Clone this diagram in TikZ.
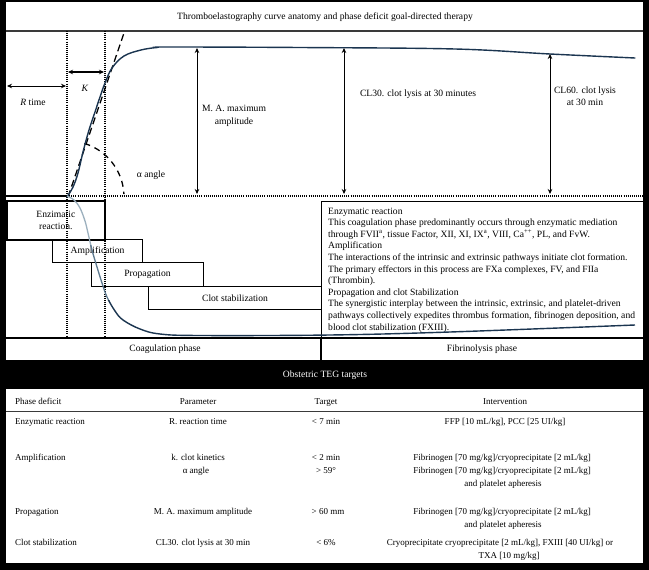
\documentclass[tikz,border=0pt]{standalone}
\usepackage{fontspec}
\setmainfont{Liberation Serif}
\usetikzlibrary{arrows.meta}
\definecolor{curvedark}{HTML}{1B3550}
\definecolor{curvemid}{HTML}{5E7A90}
\definecolor{curvelight}{HTML}{9CB0BE}
\definecolor{rulegray}{HTML}{3A3A3A}
\begin{document}
\begin{tikzpicture}[x=1pt,y=-1pt,
  lbl/.style={font=\fontsize{9.6}{11}\selectfont, inner sep=0pt, text=black},
  tbl/.style={font=\fontsize{9}{11}\selectfont, inner sep=0pt, text=black},
  dotline/.style={line width=1.2pt, dash pattern=on 1pt off 1.1pt, black},
  meas/.style={{Stealth[length=5pt,width=4.5pt]}-{Stealth[length=5pt,width=4.5pt]}, line width=0.8pt, black},
  phasebox/.style={draw=black, line width=1.1pt, inner sep=0pt, anchor=north west, font=\fontsize{9.6}{11.5}\selectfont, align=center},
  tcurve/.style={line width=1.4pt, curvedark, line cap=round},
  tangent/.style={line width=1.3pt, dash pattern=on 7pt off 4pt, black},
]
\useasboundingbox (0,0) rectangle (649,570);
\fill[black] (0,0) rectangle (649,570);
% white panels
\fill[white] (6,2) rectangle (643,360);
\fill[white] (6,389) rectangle (643,563);

% title
\node[lbl] (title) at (325,17) {Thromboelastography curve anatomy and phase deficit goal-directed therapy};
\draw[line width=1.2pt, rulegray] (6,31) -- (643,31);

% phase boxes
\node[phasebox, line width=1.7pt, minimum width=98pt, minimum height=39pt] (enz) at (6,200) {Enzimatic\\reaction.};
\node[phasebox, minimum width=90pt, minimum height=23pt] (amp) at (52,239) {Amplification};
\node[phasebox, minimum width=112pt, minimum height=24pt] (prop) at (91,262) {Propagation};
\node[phasebox, minimum width=173pt, minimum height=23pt] (clot) at (148,286) {Clot stabilization};

% description box
\node[draw=black, line width=1.1pt, inner sep=0pt, anchor=north west, minimum width=322pt, minimum height=136pt] (desc) at (321,201) {};
\node[anchor=north west, align=left, inner sep=0pt, font=\fontsize{9.6}{11.6}\selectfont] (desctext) at (328,207.5) {Enzymatic reaction\\
This coagulation phase predominantly occurs through enzymatic mediation\\
through FVII\textsuperscript{a}, tissue Factor, XII, XI, IX\textsuperscript{a}, VIII, Ca\textsuperscript{++}, PL, and FvW.\\
Amplification\\
The interactions of the intrinsic and extrinsic pathways initiate clot formation.\\
The primary effectors in this process are FXa complexes, FV, and FIIa\\
(Thrombin).\\
Propagation and clot Stabilization\\
The synergistic interplay between the intrinsic, extrinsic, and platelet-driven\\
pathways collectively expedites thrombus formation, fibrinogen deposition, and\\
blood clot stabilization (FXIII).};

% phase row
\draw[line width=1.1pt, black] (6,338) -- (643,338);
\draw[line width=1.1pt, black] (321,338) -- (321,360);
\node[lbl] (coag) at (165,349) {Coagulation phase};
\node[lbl] (fibr) at (482,349) {Fibrinolysis phase};

% baseline
\draw[line width=1.6pt, black] (6,196) -- (67,196);
\draw[dotline] (67,196) -- (643,196);
% dotted verticals
\draw[dotline] (67,31) -- (67,338);
\draw[dotline] (105,31) -- (105,338);

% tangent and angle arc
\coordinate (origin) at (68,197);
\coordinate (tanend) at (124,33);
\draw[tangent] (origin) -- (tanend);
\draw[line width=1.3pt, dash pattern=on 6pt off 5pt, black] plot[domain=73:3, samples=40] ({68+56*cos(\x)},{197-56*sin(\x)});

% top TEG curve
\draw[tcurve] plot[smooth, tension=0.6] coordinates {(67,197) (73,187) (78,173) (83,152) (89,130) (95,112) (100,97) (105,83) (112,68) (124,56) (141,50) (157,47.5) (172,47) (300,47.5) (455,49) (550,54) (635,58)};

% bottom mirrored curve with shaded colour bands
\def\botcurve{plot[smooth, tension=0.6] coordinates {(67,196) (74,200) (80,208) (85,221) (88,233) (92,250) (97,267) (102,283) (107,297) (115,311) (123,320) (140,329) (160,334) (200,335.5) (330,335) (450,332) (635,325)}}
\begin{scope}
\clip (0,190) rectangle (649,245);
\draw[line width=1.3pt, curvelight] \botcurve;
\end{scope}
\begin{scope}
\clip (0,245) rectangle (649,300);
\draw[line width=1.3pt, curvemid] \botcurve;
\end{scope}
\begin{scope}
\clip (0,300) rectangle (649,345);
\draw[line width=1.4pt, curvedark] \botcurve;
\end{scope}

% measurement arrows
\coordinate (rL) at (7,86); \coordinate (rR) at (66,86);
\draw[meas] (rL) -- (rR);
\coordinate (kL) at (68,72); \coordinate (kR) at (104,72);
\draw[meas, line width=1.5pt] (kL) -- (kR);
\coordinate (maT) at (197,48); \coordinate (maB) at (197,194);
\draw[meas] (maT) -- (maB);
\coordinate (c30T) at (344,48); \coordinate (c30B) at (344,194);
\draw[meas] (c30T) -- (c30B);
\coordinate (c60T) at (550,54); \coordinate (c60B) at (550,194);
\draw[meas] (c60T) -- (c60B);

% graph labels
\node[lbl] (rtime) at (33,102) {\textit{R} time};
\node[lbl] (klab) at (85,88) {\textit{K}};
\node[lbl, align=center, font=\fontsize{9.6}{13}\selectfont] (malab) at (234,116) {M. A. maximum\\amplitude};
\node[lbl] (cl30lab) at (418,94) {CL30. clot lysis at 30 minutes};
\node[lbl, align=center, font=\fontsize{9.6}{12}\selectfont] (cl60lab) at (585,96) {CL60. clot lysis\\at 30 min};
\node[lbl] (alab) at (151,175) {α angle};

% table band
\node[lbl, text=white] (tabtitle) at (325,375) {Obstetric TEG targets};

% table header
\node[tbl, anchor=base west] (h1) at (15,404) {Phase deficit};
\node[tbl, anchor=base] (h2) at (198,404) {Parameter};
\node[tbl, anchor=base] (h3) at (326,404) {Target};
\node[tbl, anchor=base] (h4) at (505,404) {Intervention};
\draw[line width=1pt, rulegray] (6,411) -- (643,411);

% rows
\node[tbl, anchor=base west] (r1a) at (15,424) {Enzymatic reaction};
\node[tbl, anchor=base] (r1b) at (198,424) {R. reaction time};
\node[tbl, anchor=base] (r1c) at (326,424) {< 7 min};
\node[tbl, anchor=base] (r1d) at (505,424) {FFP [10 mL/kg], PCC [25 UI/kg]};

\node[tbl, anchor=base west] (r2a) at (15,460) {Amplification};
\node[tbl, anchor=base] (r2b) at (198,460) {k. clot kinetics};
\node[tbl, anchor=base] (r2c) at (326,460) {< 2 min};
\node[tbl, anchor=base] (r2d) at (502,460) {Fibrinogen [70 mg/kg]/cryoprecipitate [2 mL/kg]};
\node[tbl, anchor=base] (r2b2) at (196,473) {α angle};
\node[tbl, anchor=base] (r2c2) at (326,473) {> 59°};
\node[tbl, anchor=base] (r2d2) at (502,473) {Fibrinogen [70 mg/kg]/cryoprecipitate [2 mL/kg]};
\node[tbl, anchor=base] (r2d3) at (503,486) {and platelet apheresis};

\node[tbl, anchor=base west] (r3a) at (15,514) {Propagation};
\node[tbl, anchor=base] (r3b) at (203,514) {M. A. maximum amplitude};
\node[tbl, anchor=base] (r3c) at (328,514) {> 60 mm};
\node[tbl, anchor=base] (r3d) at (502,514) {Fibrinogen [70 mg/kg]/cryoprecipitate [2 mL/kg]};
\node[tbl, anchor=base] (r3d2) at (503,527) {and platelet apheresis};

\node[tbl, anchor=base west] (r4a) at (15,545) {Clot stabilization};
\node[tbl, anchor=base] (r4b) at (203,545) {CL30. clot lysis at 30 min};
\node[tbl, anchor=base] (r4c) at (326,545) {< 6\%};
\node[tbl, anchor=base] (r4d) at (500,545) {Cryoprecipitate cryoprecipitate [2 mL/kg], FXIII [40 UI/kg] or};
\node[tbl, anchor=base] (r4d2) at (509,558) {TXA [10 mg/kg]};
\end{tikzpicture}
\end{document}
